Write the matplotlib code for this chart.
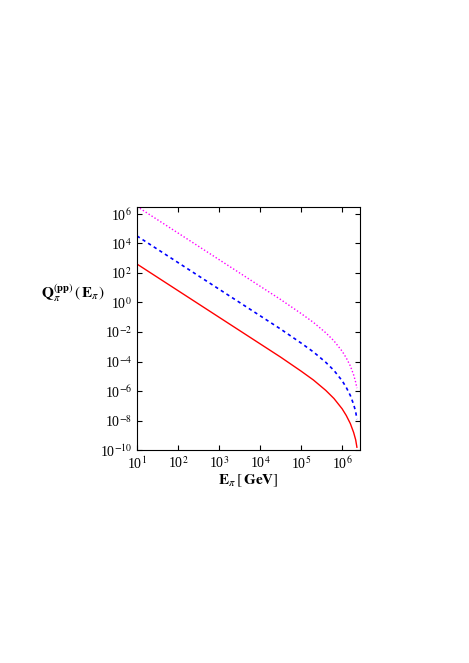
import matplotlib
matplotlib.use("Agg")
import matplotlib.pyplot as plt
import numpy as np

plt.rcParams['font.family'] = ['Liberation Serif', 'DejaVu Serif']
plt.rcParams['mathtext.fontset'] = 'stix'

logE = [1, 2, 3, 4, 4.5, 5, 5.3, 5.6, 5.8, 6.0, 6.1, 6.2, 6.28, 6.33, 6.36]
red = [2.6, 0.8, -1.0, -2.8, -3.7, -4.65, -5.25, -5.95, -6.5, -7.2, -7.65, -8.2, -8.8, -9.3, -9.8]
blue = [4.5, 2.7, 0.9, -0.9, -1.8, -2.75, -3.35, -4.05, -4.6, -5.3, -5.75, -6.3, -6.9, -7.4, -7.9]
magenta = [6.5, 4.7, 2.9, 1.1, 0.2, -0.75, -1.35, -2.05, -2.6, -3.3, -3.75, -4.3, -4.9, -5.4, -5.8]

fig = plt.figure(figsize=(4.69, 6.63), dpi=100)
ax = fig.add_axes([0.292, 0.321, 0.476, 0.367])
for ys, c, ls, lw in [(red, 'red', '-', 1.0), (blue, 'blue', (0, (2, 2)), 1.2), (magenta, 'magenta', (0, (1, 1.5)), 1.0)]:
    ax.plot(10**np.array(logE), 10**np.array(ys), color=c, ls=ls, lw=lw)
ax.set_xscale('log'); ax.set_yscale('log')
ax.set_xlim(10, 10**6.44)
ax.set_ylim(1e-10, 10**6.47)
ax.set_yticks([10.0**k for k in range(-10, 7, 2)])
ax.set_yticklabels([r'10$^{%d}$' % k for k in range(-10, 7, 2)])
ax.set_xticks([10.0**k for k in range(1, 7)])
ax.set_xticklabels([r'10$^{%d}$' % k for k in range(1, 7)])
ax.tick_params(which='both', direction='in', top=True, right=True, labelsize=10)
ax.tick_params(axis='y', which='minor', left=False, right=False)
ax.set_xlabel(r'$\mathbf{E}_\pi\,[\,\mathbf{GeV}]$', fontsize=11, labelpad=1)
ax.set_ylabel(r'$\mathbf{Q}_\pi^{(\mathbf{pp})}\,(\,\mathbf{E}_\pi)$', fontsize=11, rotation=0, labelpad=5)
ax.yaxis.set_label_coords(-0.29, 0.6)
fig.savefig('out.png', dpi=100)
